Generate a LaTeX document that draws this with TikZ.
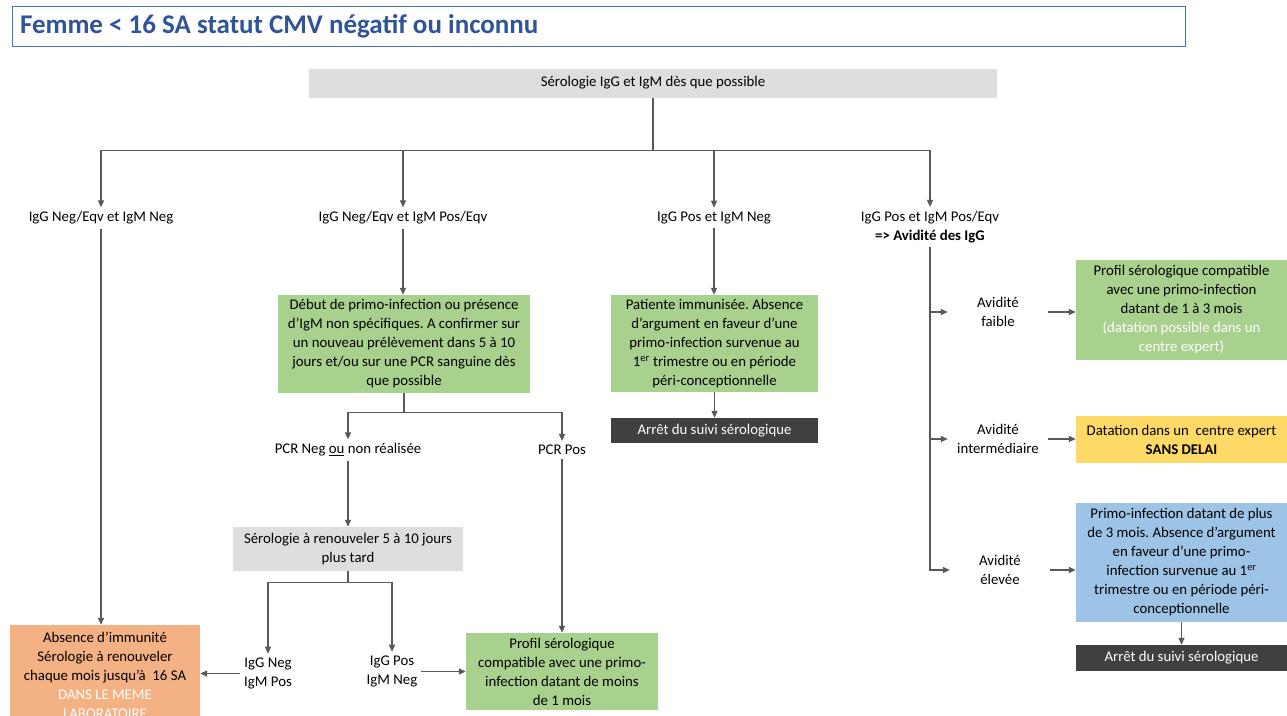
\documentclass[tikz,border=0pt]{standalone}
\usepackage{fontspec}
\setmainfont{Carlito}
\usepackage{xcolor}
\usepackage{tikz}
\usetikzlibrary{positioning,arrows.meta}
\frenchspacing

\definecolor{vertclair}{HTML}{A9D18E}
\definecolor{saumon}{HTML}{F4B183}
\definecolor{jaune}{HTML}{FFD966}
\definecolor{bleuclair}{HTML}{9DC3E6}
\definecolor{grisfonce}{HTML}{404040}
\definecolor{grisclair}{HTML}{DEDEDE}
\definecolor{trait}{HTML}{595959}
\definecolor{bleutitre}{HTML}{2F5597}
\definecolor{bleucadre}{HTML}{4472C4}

\begin{document}
\begin{tikzpicture}[x=1pt, y=-1pt, >={Triangle[length=7pt,width=6pt]},
    every node/.style={font=\fontsize{14.8}{19}\selectfont},
    boite/.style={rectangle, inner sep=3pt, align=center},
    etiq/.style={align=center, inner sep=4pt},
    lien/.style={draw=trait, line width=1.3pt},
    fleche/.style={lien, ->}]

\clip (0,0) rectangle (1287,715);
\fill[white] (0,0) rectangle (1287,715);

% ===========================
% Title
% ===========================
\node[draw=bleucadre, line width=1pt, minimum width=1173, minimum height=37,
      text width=1157, inner sep=8pt, align=flush left, text=bleutitre,
      font=\bfseries\fontsize{27}{30}\selectfont] (titre) at (598.5,26.5)
    {Femme < 16 SA statut CMV négatif ou inconnu};

% ===========================
% First serology and the four results
% ===========================
\node[boite, fill=grisclair, minimum width=688, minimum height=29] (sero) at (653,83)
    {Sérologie IgG et IgM dès que possible};

\node[etiq] (negneg) at (101,218) {IgG Neg/Eqv et IgM Neg};
\node[etiq] (negpos) at (403,218) {IgG Neg/Eqv et IgM Pos/Eqv};
\node[etiq] (posneg) at (714,218) {IgG Pos et IgM Neg};
\node[etiq] (pospos) at (930,227) {IgG Pos et IgM Pos/Eqv\\\textbf{=> Avidité des IgG}};

\draw[lien] (sero.south) -- ++(0,53) coordinate (bus);
\draw[fleche] (bus) -| (negneg.north);
\draw[fleche] (bus) -| (negpos.north);
\draw[fleche] (bus) -| (posneg.north);
\draw[fleche] (bus) -| (pospos.north);

% ===========================
% IgG Neg / IgM Neg
% ===========================
\node[boite, fill=saumon, minimum width=190, minimum height=100] (absimm) at (105,675)
    {Absence d’immunité\\Sérologie à renouveler\\chaque mois jusqu’à\ \ 16 SA\\
     \textcolor{white}{DANS LE MEME}\\\textcolor{white}{LABORATOIRE}};
\draw[fleche] (negneg.south) -- (negneg.south |- absimm.north);

% ===========================
% IgG Neg / IgM Pos
% ===========================
\node[boite, fill=vertclair, minimum width=252, minimum height=98] (debut) at (404,344)
    {Début de primo-infection ou présence\\d’IgM non spécifiques. A confirmer sur\\
     un nouveau prélèvement dans 5 à 10\\jours et/ou sur une PCR sanguine dès\\que possible};
\draw[fleche] (negpos.south) -- (negpos.south |- debut.north);

\node[etiq] (pcrneg) at (348,450) {PCR Neg \underline{ou} non réalisée};
\node[etiq] (pcrpos) at (562,450) {PCR Pos};
\draw[lien] (debut.south) -- ++(0,19) coordinate (fourche);
\draw[fleche] (fourche) -| (pcrneg.north);
\draw[fleche] (fourche) -| (pcrpos.north);

\node[boite, fill=grisclair, minimum width=230, minimum height=44] (renouv) at (348,549)
    {Sérologie à renouveler 5 à 10 jours\\plus tard};
\draw[fleche] (pcrneg.south) -- (renouv.north);

\node[etiq] (igneg) at (268,673.5) {IgG Neg\\IgM Pos};
\node[etiq] (igpos) at (392,671.5) {IgG Pos\\IgM Neg};
\draw[lien] (renouv.south) -- ++(0,11) coordinate (fourche2);
\draw[fleche] (fourche2) -| (igneg.north);
\draw[fleche] (fourche2) -| (igpos.north);

\node[boite, fill=vertclair, minimum width=192, minimum height=77] (moins1) at (562,671.5)
    {Profil sérologique\\compatible avec une primo-\\infection datant de moins\\de 1 mois};
\draw[fleche] (igneg.west) -- (igneg.west -| absimm.east);
\draw[fleche] (igpos.east) -- (igpos.east -| moins1.west);
\draw[fleche] (pcrpos.south) -- (pcrpos.south |- moins1.north);

% ===========================
% IgG Pos / IgM Neg
% ===========================
\node[boite, fill=vertclair, minimum width=207, minimum height=97] (immun) at (714.5,343.5)
    {Patiente immunisée. Absence\\d’argument en faveur d’une\\primo-infection survenue au\\
     1\textsuperscript{er} trimestre ou en période\\péri-conceptionnelle};
\node[boite, fill=grisfonce, text=white, minimum width=207, minimum height=25] (arret1) at (714.5,430.5)
    {Arrêt du suivi sérologique};
\draw[fleche] (posneg.south) -- (posneg.south |- immun.north);
\draw[fleche] (immun.south) -- (arret1.north);

% ===========================
% IgG Pos / IgM Pos : avidity
% ===========================
\node[etiq, text width=92] (avfaible) at (998,312) {Avidité\\faible};
\node[etiq, text width=92] (avinter) at (998,439) {Avidité\\intermédiaire};
\node[etiq, text width=92] (aveleve) at (1000,570) {Avidité\\élevée};

\draw[fleche] (pospos.south) |- (aveleve.west);
\draw[fleche] (avfaible.west -| pospos.south) -- (avfaible.west);
\draw[fleche] (avinter.west -| pospos.south) -- (avinter.west);

\node[boite, fill=vertclair, minimum width=211, minimum height=100] (prof3) at (1181.5,310)
    {Profil sérologique compatible\\avec une primo-infection\\datant de 1 à 3 mois\\
     \textcolor{white}{(datation possible dans un}\\\textcolor{white}{centre expert)}};
\node[boite, fill=jaune, minimum width=211, minimum height=47] (datation) at (1181.5,439.5)
    {Datation dans un\ \ centre expert\\\textbf{SANS DELAI}};
\node[boite, fill=bleuclair, minimum width=211, minimum height=119] (plus3) at (1181.5,562.5)
    {Primo-infection datant de plus\\de 3 mois. Absence d’argument\\en faveur d’une primo-\\
     infection survenue au 1\textsuperscript{er}\\trimestre ou en période péri-\\conceptionnelle};
\node[boite, fill=grisfonce, text=white, minimum width=211, minimum height=26] (arret2) at (1181.5,658)
    {Arrêt du suivi sérologique};

\draw[fleche] (avfaible.east) -- (avfaible.east -| prof3.west);
\draw[fleche] (avinter.east) -- (avinter.east -| datation.west);
\draw[fleche] (aveleve.east) -- (aveleve.east -| plus3.west);
\draw[fleche] (plus3.south) -- (arret2.north);

\end{tikzpicture}
\end{document}
